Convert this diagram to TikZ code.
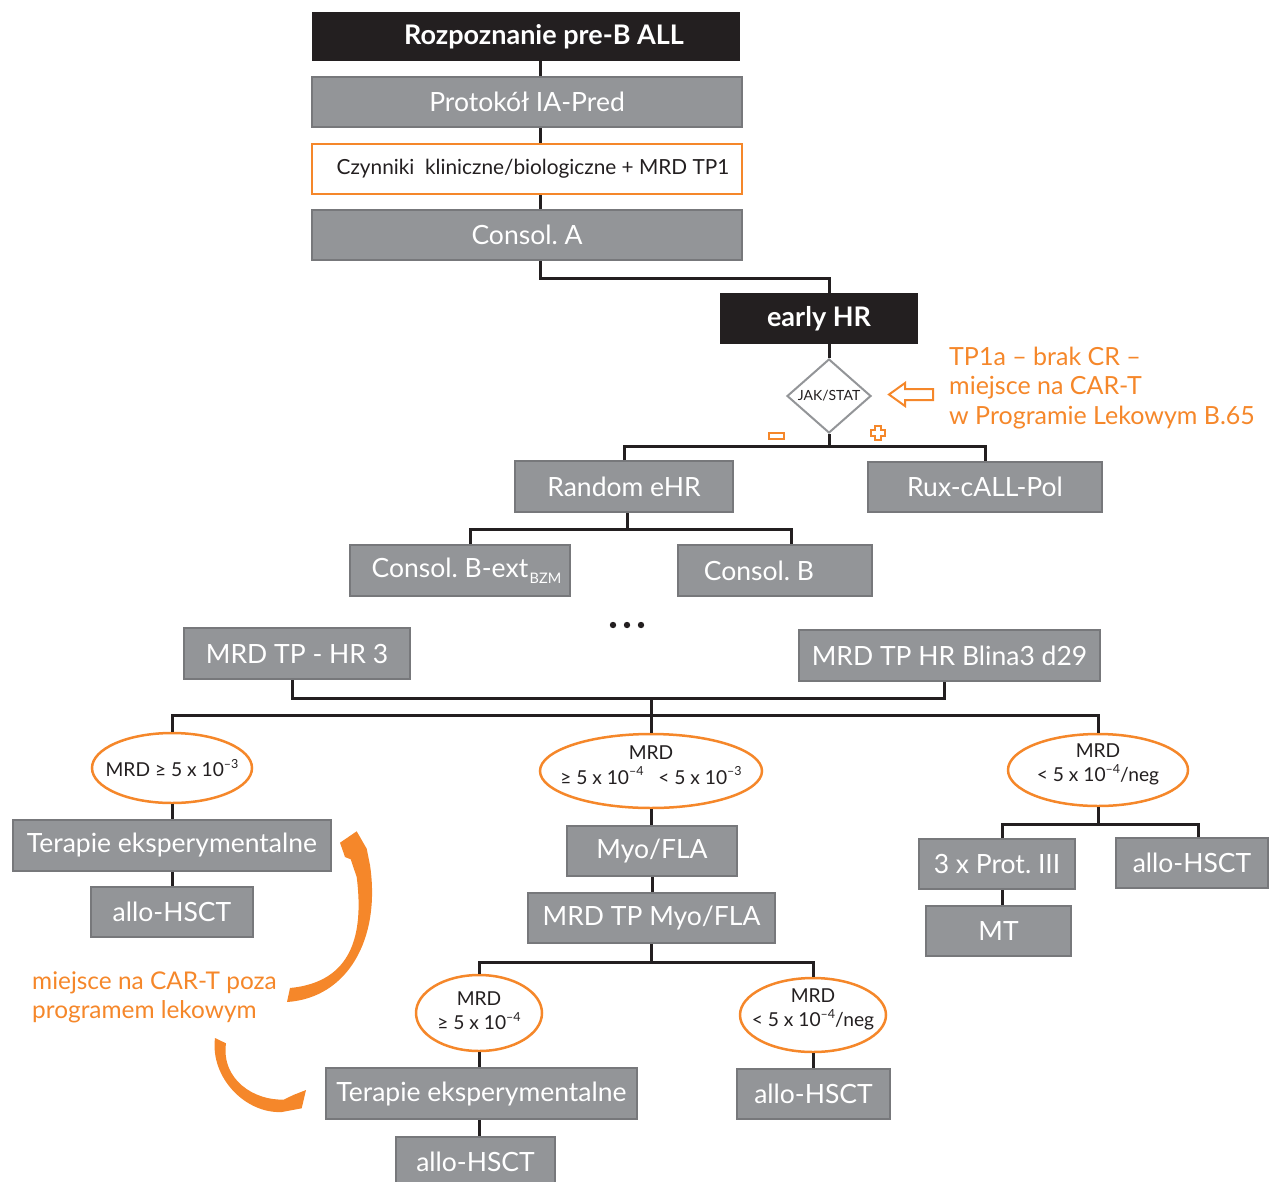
\documentclass[tikz,border=0pt]{standalone}
\usepackage{fontspec}
\setmainfont{Lato}
\usetikzlibrary{arrows.meta}
\usetikzlibrary{shapes.geometric}
\frenchspacing

\definecolor{boxgrey}{HTML}{939598}
\definecolor{boxedge}{HTML}{77787B}
\definecolor{boxblack}{HTML}{231F20}
\definecolor{carorange}{HTML}{F5872A}

\newcommand\expo[1]{\raisebox{.45em}{\fontsize{12.5pt}{12pt}\selectfont#1}}
\newcommand\mrdtext[2][0pt]{\makebox[0pt]{\raisebox{#1}[\height][\depth]{\begin{tabular}{@{}c@{}}#2\end{tabular}}}}

\tikzset{
  greybox/.style={draw=boxedge, line width=2pt, fill=boxgrey, text=white, inner sep=0pt, font=\fontsize{26.5pt}{30pt}\selectfont},
  blackbox/.style={fill=boxblack, text=white, inner sep=0pt, font=\bfseries\fontsize{27pt}{30pt}\selectfont},
  orangebox/.style={draw=carorange, line width=2pt, fill=white, text=boxblack, inner sep=0pt, font=\fontsize{20.8pt}{24pt}\selectfont},
  mrdell/.style={ellipse, draw=carorange, line width=2.5pt, fill=white, text=boxblack, inner sep=0pt, font=\fontsize{19.2pt}{23pt}\selectfont},
  jakdiam/.style={diamond, draw=boxgrey, line width=2pt, fill=white, text=boxblack, inner sep=0pt, font=\fontsize{14pt}{16pt}\selectfont},
  link/.style={boxblack, line width=3pt},
  carfill/.style={fill=carorange},
  cartext/.style={text=carorange, align=left, anchor=west, inner sep=0pt, font=\fontsize{25pt}{29.5pt}\selectfont}
}

\begin{document}
\begin{tikzpicture}[x=1pt, y=-1pt]
\useasboundingbox (0,0) rectangle (1269,1181);

% top trunk
\node[blackbox, minimum width=428pt, minimum height=49pt] (diag) at (526,36.5) {\hspace*{36pt}Rozpoznanie pre-B ALL};
\node[greybox, minimum width=430pt, minimum height=50pt] (ia) at (527,102) {Protokół IA-Pred};
\node[orangebox, minimum width=430pt, minimum height=50pt] (czyn) at (527,169) {\hspace*{12pt}Czynniki\ \ kliniczne/biologiczne + MRD TP1};
\node[greybox, minimum width=430pt, minimum height=50pt] (consA) at (527,235) {Consol. A};
\coordinate (trunk) at (540,0);
\draw[link] (diag.south -| trunk) -- (ia.north -| trunk);
\draw[link] (ia.south -| trunk) -- (czyn.north -| trunk);
\draw[link] (czyn.south -| trunk) -- (consA.north -| trunk);

% early HR and JAK/STAT
\node[blackbox, minimum width=198pt, minimum height=51pt] (early) at (819,318.5) {early HR};
\node[jakdiam, minimum width=84pt, minimum height=74pt] (jak) at (829,396) {JAK/STAT};
\draw[link] (consA.south -| trunk) -- ++(0,17) -| (early.north -| jak);
\draw[link] (early.south -| jak) -- (jak.north);

\draw[carorange, line width=2pt] (889,394.5) -- (905,383) -- (905,389) -- (933,389) -- (933,400) -- (905,400) -- (905,406) -- cycle;
\node[cartext] (tp1a) at (949,388) {TP1a – brak CR –\\miejsce na CAR-T\\w Programie Lekowym B.65};
\draw[carorange, line width=2pt] (769,433) rectangle (784,439);
\draw[carorange, line width=2pt] (875,426) -- (881,426) -- (881,430) -- (885,430) -- (885,436) -- (881,436) -- (881,440) -- (875,440) -- (875,436) -- (871,436) -- (871,430) -- (875,430) -- cycle;

\node[greybox, minimum width=218pt, minimum height=51pt] (rand) at (624,486.5) {Random eHR};
\node[greybox, minimum width=234pt, minimum height=50pt] (rux) at (985,487) {Rux-cALL-Pol};
\draw[link] (jak.south) -- ++(0,12) coordinate (b1);
\draw[link] (rand.north) |- (b1) -| (rux.north);

\node[greybox, minimum width=220pt, minimum height=51pt] (bext) at (460,570.5) {\hspace*{13pt}Consol. B-ext\hspace{1.5pt}\raisebox{-6pt}{\fontsize{14.5pt}{14pt}\selectfont BZM}};
\node[greybox, minimum width=194pt, minimum height=51pt] (consB) at (775,570.5) {Consol. B\hspace*{32pt}};
\draw[link] ([xshift=3pt]rand.south) -- ++(0,16) coordinate (b2);
\draw[link] ([xshift=10pt]bext.north) |- (b2) -| ([xshift=16pt]consB.north);

\foreach \x in {613,627,641} \fill[boxblack] (\x,625) circle (3.2pt);

% MRD time points
\node[greybox, minimum width=226pt, minimum height=51pt] (hr3) at (297,653.5) {MRD TP - HR 3};
\node[greybox, minimum width=301pt, minimum height=51pt] (blina) at (949.5,655.5) {MRD TP HR Blina3 d29};
\draw[link] ([xshift=-5pt]hr3.south) -- ++(0,18) coordinate (b3) -| ([xshift=-5.5pt]blina.south);

\node[mrdell, minimum width=160pt, minimum height=70pt] (e1) at (172,768) {\makebox[0pt]{MRD ≥ 5 x 10\expo{–3}}};
\node[mrdell, minimum width=222pt, minimum height=74pt] (e2) at (651,771) {\mrdtext[3.5pt]{MRD\\≥ 5 x 10\expo{–4}\ \ \ < 5 x 10\expo{–3}}};
\node[mrdell, minimum width=180pt, minimum height=72pt] (e3) at (1098,770) {\mrdtext[5pt]{MRD\\< 5 x 10\expo{–4}/neg}};
\coordinate (b4) at (651,715);
\draw[link] (e2.north |- b3) -- (b4);
\draw[link] (e1.north) |- (b4) -| (e3.north);
\draw[link] (b4) -- (e2.north);

% left branch
\node[greybox, minimum width=318pt, minimum height=51pt] (ter1) at (172,845.5) {Terapie eksperymentalne};
\node[greybox, minimum width=162pt, minimum height=50pt] (allo1) at (172,912) {allo-HSCT};
\draw[link] (e1.south) -- (ter1.north);
\draw[link] (ter1.south) -- (allo1.north);

% middle branch
\node[greybox, minimum width=170pt, minimum height=50pt] (myo) at (652,851) {Myo/FLA};
\node[greybox, minimum width=247pt, minimum height=50pt] (mrdmyo) at (651.5,918) {MRD TP Myo/FLA};
\draw[link] (e2.south) -- (myo.north -| e2);
\draw[link] (myo.south) -- (mrdmyo.north -| myo);

\node[mrdell, minimum width=126pt, minimum height=76pt] (e4) at (479,1013) {\mrdtext[0pt]{MRD\\≥ 5 x 10\expo{–4}}};
\node[mrdell, minimum width=146pt, minimum height=74pt] (e5) at (813,1015) {\mrdtext[5pt]{MRD\\< 5 x 10\expo{–4}/neg}};
\draw[link] (mrdmyo.south) -- ++(0,18) coordinate (b5);
\draw[link] (e4.north) |- (b5) -| (e5.north);

\node[greybox, minimum width=311pt, minimum height=51pt] (ter2) at (481.5,1093.5) {Terapie eksperymentalne};
\node[greybox, minimum width=159pt, minimum height=50pt] (allo2) at (475.5,1162) {allo-HSCT};
\node[greybox, minimum width=153pt, minimum height=50pt] (allo3) at (813.5,1094) {allo-HSCT};
\draw[link] (e4.south) -- (ter2.north -| e4);
\draw[link] (ter2.south -| e4) -- (allo2.north -| e4);
\draw[link] (e5.south) -- (allo3.north -| e5);

% right branch
\node[greybox, minimum width=156pt, minimum height=50pt] (prot3) at (997,864) {3 x Prot. III};
\node[greybox, minimum width=152pt, minimum height=50pt] (alloR) at (1192,863) {allo-HSCT};
\node[greybox, minimum width=145pt, minimum height=50pt] (mt) at (998.5,931) {MT};
\draw[link] (e3.south) -- ++(0,17) coordinate (b6);
\draw[link] ([xshift=5pt]prot3.north) |- (b6) -| ([xshift=6pt]alloR.north);
\draw[link] ([xshift=5pt]prot3.south) -- ([xshift=3.5pt]mt.north);

% CAR-T outside the programme: tapered arrows
\node[cartext, font=\fontsize{24.4pt}{29pt}\selectfont] (poza) at (32,997) {miejsce na CAR-T poza\\programem lekowym};
\fill[carfill] (287,1002) .. controls (347,998) and (381,940) .. (370,865) -- (366.7,848.7) -- (356.7,831.3) -- (340,842.7) -- (345,857) -- (350.7,859.3) -- (356.7,877) .. controls (364,935) and (352,982) .. (290,988) -- cycle;
\fill[carfill] (215,1038) .. controls (210,1078) and (246,1114) .. (282,1112) -- (301.7,1108.3) -- (306,1090) -- (293.3,1095) -- (284,1099.5) .. controls (255,1101) and (221,1080) .. (226,1043.3) -- cycle;

\end{tikzpicture}
\end{document}
